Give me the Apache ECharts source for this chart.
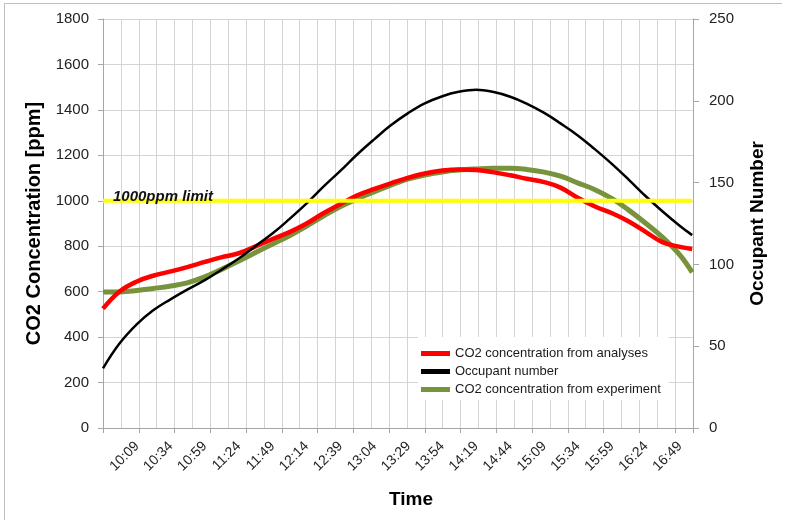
<!DOCTYPE html>
<html><head><meta charset="utf-8">
<script src="https://cdn.jsdelivr.net/npm/echarts@6/dist/echarts.min.js"></script>
<style>html,body{margin:0;padding:0;background:#fff}#c{width:786px;height:520px}</style>
</head><body><div id="c"></div>
<script>
// ---- data ----
const times = ['9:44','9:56','10:09','10:21','10:34','10:46','10:59','11:11','11:24','11:36','11:49','12:01',
  '12:14','12:26','12:39','12:51','13:04','13:16','13:29','13:41','13:54','14:06','14:19','14:31',
  '14:44','14:56','15:09','15:21','15:34','15:46','15:59','16:11','16:24','16:36','16:49','16:58'];
const co2Analyses = [525,600,645,670,689,708,731,751,769,798,832,861,
  900,944,986,1023,1052,1077,1102,1120,1133,1138,1135,1126,
  1112,1097,1082,1058,1012,976,945,910,862,818,797,788];
const occupants = [36.5,51.5,63.5,72.0,78.8,84.6,90.4,96.6,103.6,111.0,119.0,127.5,
  137.3,147.2,157.3,167.0,176.6,185.0,192.6,198.4,202.8,205.5,206.8,205.5,
  202.5,198.3,192.6,186.2,178.7,170.6,161.3,152.0,141.5,132.5,123.5,117.9];
const co2Experiment = [598,599,605,614,625,639,665,697,735,771,810,845,
  889,932,975,1008,1040,1069,1096,1113,1127,1135,1140,1143,
  1143,1138,1126,1108,1078,1050,1009,960,900,840,761,685];
const limitPpm = 1000;
const limitText = '1000ppm limit';
const seriesNames = ['CO2 concentration from analyses','Occupant number','CO2 concentration from experiment'];
const axisStart = '9:44';      // left edge of the time axis
const axisSpanMinutes = 434.6; // width of the time axis in minutes
const labelStepMinutes = 25;

// ---- helpers ----
function toMin(s){const p=s.split(':').map(Number);return p[0]*60+p[1];}
const t0 = toMin(axisStart);
const xs = times.map(s=>toMin(s)-t0);
function fmt(v){const m=Math.round(v+t0);return Math.floor(m/60)+':'+String(m%60).padStart(2,'0');}
const pairs = arr => xs.map((x,i)=>[x,arr[i]]);

const FONT = "'Liberation Sans', Arial, sans-serif";
const AXIS_C = '#a6a6a6', GRID_C = '#d4d4d4', TXT = '#222';

const chart = echarts.init(document.getElementById('c'), null, {renderer:'canvas'});
chart.setOption({
  animation:false,
  backgroundColor:'#fff',
  textStyle:{fontFamily:FONT},
  grid:{left:103,right:93,top:19,bottom:92,containLabel:false},
  legend:{
    data:seriesNames, orient:'vertical', left:418, top:337,
    icon:'rect', itemWidth:29, itemHeight:5, itemGap:5,
    padding:[10,8,4,3], backgroundColor:'#fff',
    textStyle:{fontSize:13,color:'#1a1a1a',fontFamily:FONT},
    selectedMode:false
  },
  xAxis:[
    {type:'value',min:0,max:axisSpanMinutes,interval:labelStepMinutes,position:'bottom',
     axisLine:{show:false,onZero:false},axisTick:{show:false},splitLine:{show:false},
     axisLabel:{rotate:45,margin:16,fontSize:14,color:TXT,formatter:fmt,showMinLabel:false,showMaxLabel:false},
     name:'Time',nameLocation:'middle',nameGap:62,
     nameTextStyle:{fontSize:19,fontWeight:'bold',color:'#000',padding:[0,0,0,26]}},
    {type:'value',min:0,max:33,interval:1,position:'bottom',
     axisLine:{show:true,onZero:false,lineStyle:{color:AXIS_C}},axisTick:{show:false},axisLabel:{show:false},
     splitLine:{show:true,lineStyle:{color:GRID_C}}},
    {type:'value',min:0,max:33,interval:2,position:'bottom',
     axisLine:{show:false,onZero:false},axisTick:{show:true,length:5,lineStyle:{color:AXIS_C}},axisLabel:{show:false},
     splitLine:{show:false}}
  ],
  yAxis:[
    {type:'value',min:0,max:1800,interval:200,position:'left',
     axisLine:{show:true,onZero:false,lineStyle:{color:AXIS_C}},axisTick:{show:true,length:5,lineStyle:{color:AXIS_C}},
     axisLabel:{fontSize:15,color:TXT,margin:14,formatter:v=>String(v)},
     splitLine:{show:true,lineStyle:{color:GRID_C}},
     name:'CO2 Concentration [ppm]',nameLocation:'middle',nameGap:54,
     nameTextStyle:{fontSize:20,fontWeight:'bold',color:'#000'}},
    {type:'value',min:0,max:250,interval:50,position:'right',
     axisLine:{show:true,onZero:false,lineStyle:{color:AXIS_C}},axisTick:{show:true,length:6,lineStyle:{color:AXIS_C}},
     axisLabel:{fontSize:15,color:TXT,margin:16,formatter:v=>String(v)},
     splitLine:{show:false},
     name:'Occupant Number',nameLocation:'middle',nameGap:55,
     nameTextStyle:{fontSize:19,fontWeight:'bold',color:'#000'}}
  ],
  series:[
    {name:seriesNames[2],type:'line',xAxisIndex:0,yAxisIndex:0,data:pairs(co2Experiment),
     showSymbol:false,smooth:0.4,lineStyle:{color:'#77933C',width:5},itemStyle:{color:'#77933C'},z:2,silent:true},
    {name:seriesNames[0],type:'line',xAxisIndex:0,yAxisIndex:0,data:pairs(co2Analyses),
     showSymbol:false,smooth:0.4,lineStyle:{color:'#FF0000',width:4.5},itemStyle:{color:'#FF0000'},z:3,silent:true},
    {name:seriesNames[1],type:'line',xAxisIndex:0,yAxisIndex:1,data:pairs(occupants),
     showSymbol:false,smooth:0.4,lineStyle:{color:'#000000',width:2.5},itemStyle:{color:'#000000'},z:4,silent:true},
    {name:'limit',type:'line',xAxisIndex:0,yAxisIndex:0,
     data:[[xs[0],limitPpm],[xs[xs.length-1],limitPpm]],
     showSymbol:false,lineStyle:{color:'#FFFF00',width:4},itemStyle:{color:'#FFFF00'},z:5,silent:true}
  ],
  graphic:[
    {type:'line',shape:{x1:4.5,y1:3.5,x2:782,y2:3.5},style:{stroke:'#bdbdbd',lineWidth:1},silent:true},
    {type:'line',shape:{x1:4.5,y1:3.5,x2:4.5,y2:520},style:{stroke:'#bdbdbd',lineWidth:1},silent:true},
    {type:'text',x:113,y:204,z:100,silent:true,
     style:{text:limitText,fontSize:15,fontWeight:'bold',fontStyle:'italic',fill:'#111',
            fontFamily:FONT,textVerticalAlign:'bottom',verticalAlign:'bottom'}}
  ]
});
</script></body></html>
